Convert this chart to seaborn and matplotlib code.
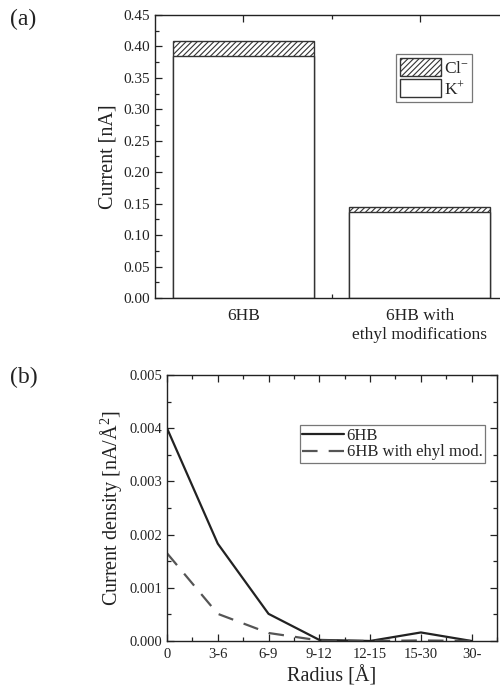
import matplotlib
matplotlib.use("Agg")
import matplotlib.pyplot as plt
from matplotlib.patches import Patch
from matplotlib.lines import Line2D
from matplotlib.ticker import MultipleLocator, FixedLocator, FormatStrFormatter
import seaborn as sns
import pandas as pd

# Panel (a): ionic current split by species
systems = ["6HB", "6HB with\nethyl modifications"]
k_current = [0.384, 0.137]
cl_current = [0.024, 0.007]

# Panel (b): current density per radial shell
radius_bins = ["0", "3-6", "6-9", "9-12", "12-15", "15-30", "30-"]
density_6hb = [0.0040, 0.00183, 0.00051, 0.00002, 0.0, 0.00016, 0.0]
density_ethyl = [0.00165, 0.00051, 0.00015, 0.00001, 0.0, 0.00001, 0.0]

sns.set_theme(style="ticks")
plt.rcParams["font.family"] = ["Liberation Serif", "DejaVu Serif"]
plt.rcParams["mathtext.fontset"] = "custom"
plt.rcParams["mathtext.rm"] = "Liberation Serif"
plt.rcParams["mathtext.it"] = "Liberation Serif:italic"
plt.rcParams["hatch.color"] = "#444444"
plt.rcParams["hatch.linewidth"] = 0.8

ink = "#222222"
dash = (0, (7, 5))
fig = plt.figure(figsize=(5.0, 6.87), dpi=100)

# ---------------- (a) stacked bars ----------------
ax1 = fig.add_axes([0.31, 0.5662, 0.706, 0.412])
df_a = pd.DataFrame({
    "system": systems,
    "total": [k + c for k, c in zip(k_current, cl_current)],
    "K": k_current,
})
sns.barplot(data=df_a, x="system", y="total", color="white", edgecolor="#333333",
            linewidth=1.0, hatch="//////", ax=ax1, width=0.8, saturation=1)
sns.barplot(data=df_a, x="system", y="K", color="white", edgecolor="#333333",
            linewidth=1.0, ax=ax1, width=0.8, saturation=1)
ax1.set_xlim(-0.5, 1.5)
ax1.set_ylim(0, 0.45)
ax1.yaxis.set_major_locator(MultipleLocator(0.05))
ax1.yaxis.set_minor_locator(MultipleLocator(0.025))
ax1.yaxis.set_major_formatter(FormatStrFormatter("%.2f"))
ax1.xaxis.set_minor_locator(FixedLocator([0.5]))
ax1.set_xlabel("")
ax1.set_ylabel("Current [nA]", fontsize=14.5, color=ink, labelpad=4)
ax1.tick_params(which="both", direction="in", top=True, right=True,
                colors=ink, labelsize=11)
ax1.tick_params(which="major", length=5, width=0.9)
ax1.tick_params(which="minor", length=3, width=0.9)
ax1.tick_params(axis="x", pad=7, labelsize=12.5)
for lbl in ax1.get_xticklabels():
    lbl.set_linespacing(1.3)
for s in ax1.spines.values():
    s.set_color(ink)
    s.set_linewidth(1.0)

leg_a = ax1.legend(
    handles=[Patch(facecolor="white", edgecolor="#333333", hatch="//////", label="Cl$^{-}$"),
             Patch(facecolor="white", edgecolor="#333333", label="K$^{+}$")],
    loc="upper left", bbox_to_anchor=(0.683, 0.862), borderaxespad=0,
    fontsize=12.5, handlelength=2.4, handleheight=1.25, handletextpad=0.15,
    labelspacing=0.15, borderpad=0.2, fancybox=False, framealpha=1,
    edgecolor="#777777")
leg_a.get_frame().set_linewidth(0.9)

fig.text(0.02, 0.972, "(a)", fontsize=17, color=ink, va="center")

# ---------------- (b) current density lines ----------------
ax2 = fig.add_axes([0.334, 0.0670, 0.66, 0.3871])
df_b = pd.DataFrame({"pos": list(range(len(radius_bins))) * 2,
                     "density": density_6hb + density_ethyl,
                     "system": ["6HB"] * len(radius_bins) + ["6HB with ehyl mod."] * len(radius_bins)})
sns.lineplot(data=df_b[df_b.system == "6HB"], x="pos", y="density", color="#222222",
             linewidth=1.6, ax=ax2, legend=False)
sns.lineplot(data=df_b[df_b.system != "6HB"], x="pos", y="density", color="#555555",
             linewidth=1.6, ax=ax2, legend=False, dashes=False, linestyle=dash)
ax2.set_xlim(0, 6.5)
ax2.set_ylim(0, 0.005)
ax2.set_xticks(range(len(radius_bins)))
ax2.set_xticklabels(radius_bins)
ax2.xaxis.set_minor_locator(MultipleLocator(0.5))
ax2.yaxis.set_major_locator(MultipleLocator(0.001))
ax2.yaxis.set_minor_locator(MultipleLocator(0.0005))
ax2.yaxis.set_major_formatter(FormatStrFormatter("%.3f"))
ax2.set_xlabel("Radius [Å]", fontsize=14.5, color=ink, labelpad=4)
ax2.set_ylabel("Current density [nA/Å$^{2}$]", fontsize=14.5, color=ink, labelpad=4)
ax2.tick_params(which="both", direction="in", top=True, right=True,
                colors=ink, labelsize=10.5)
ax2.tick_params(which="major", length=5, width=0.9)
ax2.tick_params(which="minor", length=3, width=0.9)
ax2.tick_params(axis="x", pad=5)
for s in ax2.spines.values():
    s.set_color(ink)
    s.set_linewidth(1.0)

leg_b = ax2.legend(
    handles=[Line2D([], [], color="#222222", lw=1.6, label="6HB"),
             Line2D([], [], color="#555555", lw=1.6, linestyle=dash,
                    label="6HB with ehyl mod.")],
    loc="upper left", bbox_to_anchor=(0.403, 0.812), borderaxespad=0,
    fontsize=12, handlelength=2.5, handletextpad=0.15, labelspacing=0.05,
    borderpad=0.15, fancybox=False, framealpha=1, edgecolor="#777777")
leg_b.get_frame().set_linewidth(0.9)

fig.text(0.02, 0.45, "(b)", fontsize=17, color=ink, va="center")

fig.savefig("out.png", dpi=100)
